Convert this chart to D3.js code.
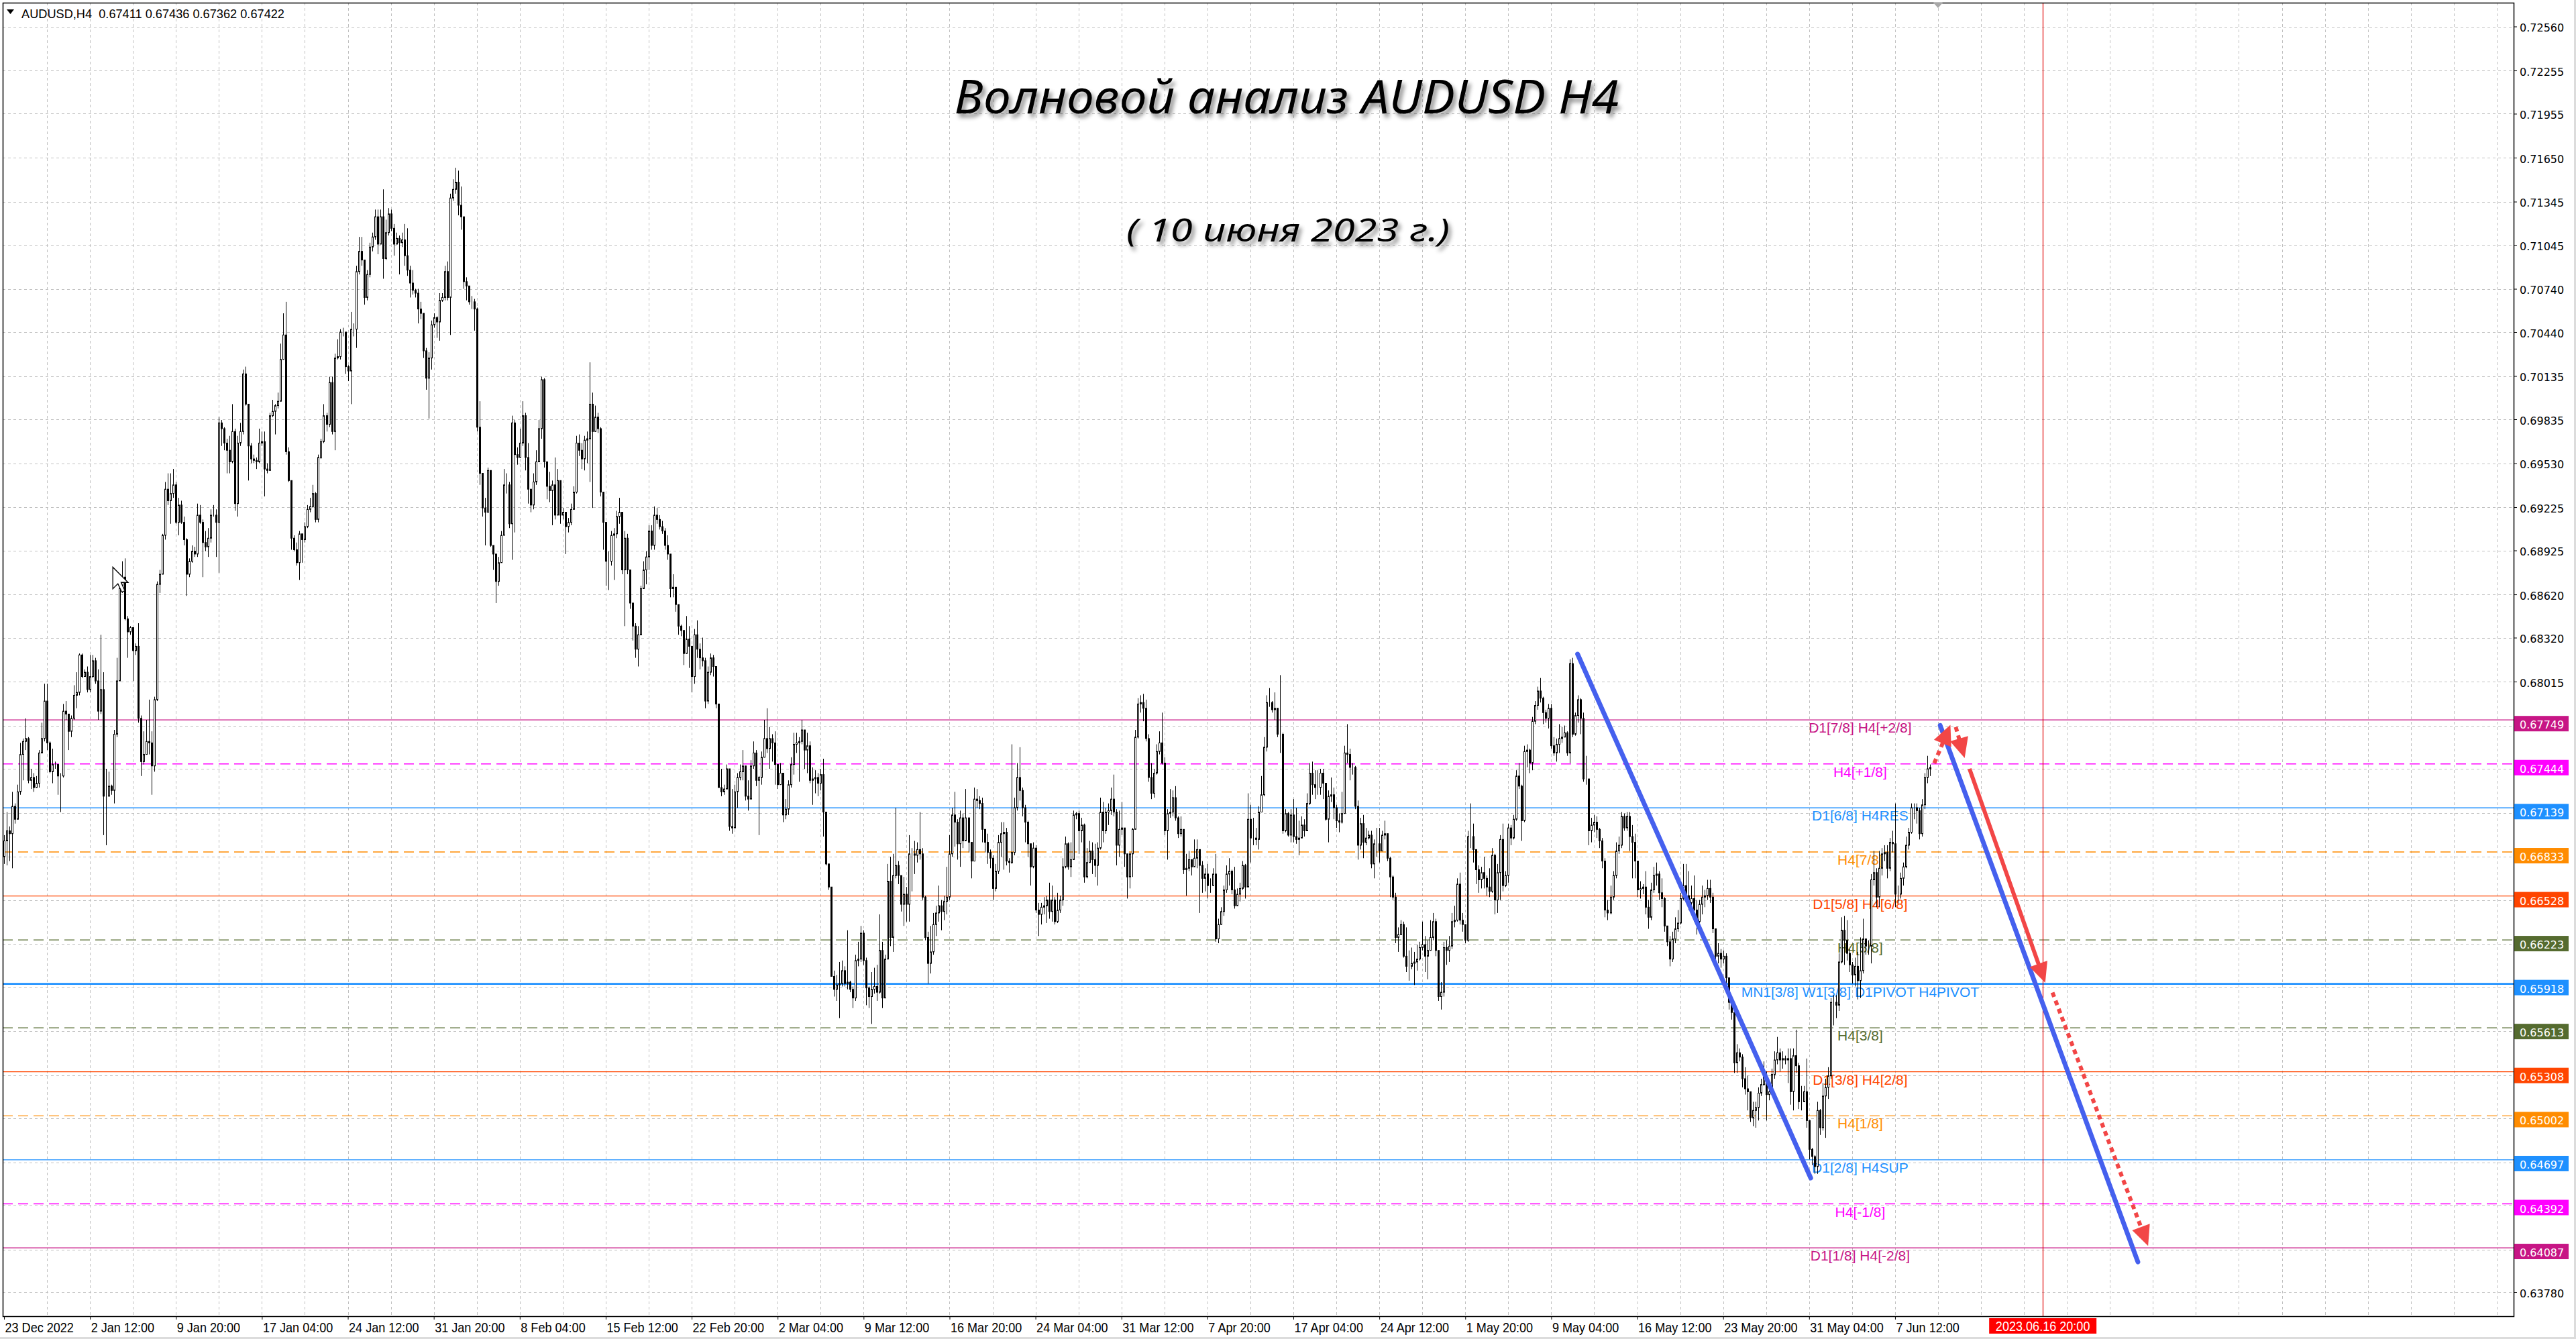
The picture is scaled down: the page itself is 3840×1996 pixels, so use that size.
<!DOCTYPE html>
<html>
<head>
<meta charset="utf-8">
<script src="https://cdn.jsdelivr.net/npm/d3@7"></script>
<style>
  body { margin: 0; background: #fff; overflow: hidden; }
  svg { display: block; }
</style>
</head>
<body>
<svg id="chart" width="3840" height="1996"></svg>
<script>
// header / titles
var symbolInfo = "AUDUSD,H4  0.67411 0.67436 0.67362 0.67422";
var titleText = "Волновой анализ AUDUSD H4";
var subTitleText = "( 10 июня 2023 г.)";
var futureLabel = "2023.06.16 20:00";
var futureBar = 759;

// H4 candles, prices in pips (x 10000); open = previous close
var firstOpen = 6680;
var closes = [
6691,6698,6696,6715,6706,6725,6751,6760,6762,6733,6735,6728,6731,6752,6762,6788,6759,6739,6744,6744,
6736,6736,6781,6779,6767,6776,6792,6794,6820,6805,6808,6796,6805,6816,6802,6781,6796,6722,6722,6729,
6726,6765,6802,6866,6874,6845,6836,6839,6823,6826,6776,6746,6751,6760,6759,6743,6789,6869,6876,6903,
6935,6927,6932,6938,6912,6924,6912,6900,6876,6885,6892,6890,6917,6912,6898,6895,6901,6917,6917,6912,
6981,6977,6967,6962,6954,6975,6925,6967,6975,7015,6994,6965,6956,6955,6954,6967,6968,6949,6948,6986,
6989,6993,6996,7025,7042,6961,6941,6901,6893,6884,6904,6900,6909,6921,6923,6932,6914,6957,6968,6986,
6980,7009,6975,7026,7027,7044,7044,7020,7017,7046,7046,7086,7100,7094,7068,7084,7103,7110,7124,7105,
7124,7095,7113,7126,7116,7105,7109,7106,7108,7097,7087,7078,7073,7071,7060,7057,7031,7012,7026,7049,
7054,7051,7066,7068,7086,7068,7137,7143,7148,7132,7124,7079,7076,7065,7065,7060,6978,6946,6922,6919,
6948,6896,6890,6871,6884,6903,6938,6938,6911,6981,6959,6957,6967,6986,6957,6935,6924,6940,6954,6977,
7011,6954,6937,6934,6938,6917,6941,6917,6919,6909,6912,6921,6933,6967,6962,6956,6969,6970,6994,6975,
6985,6977,6933,6912,6885,6885,6903,6904,6916,6919,6879,6901,6879,6856,6840,6824,6834,6866,6879,6888,
6906,6896,6917,6914,6909,6906,6896,6890,6866,6867,6855,6840,6837,6821,6831,6826,6805,6834,6824,6818,
6816,6788,6808,6818,6812,6786,6728,6725,6727,6741,6701,6700,6725,6735,6739,6743,6722,6720,6743,6752,
6733,6735,6749,6762,6755,6762,6759,6744,6730,6738,6709,6713,6730,6744,6758,6759,6760,6768,6754,6757,
6733,6734,6735,6731,6737,6711,6675,6659,6597,6588,6591,6592,6601,6592,6593,6588,6582,6608,6609,6627,
6608,6589,6583,6588,6590,6586,6615,6582,6609,6663,6624,6667,6674,6667,6647,6654,6647,6682,6682,6681,
6685,6682,6652,6624,6606,6614,6633,6641,6646,6642,6649,6652,6682,6709,6704,6689,6707,6691,6707,6690,
6677,6720,6719,6717,6699,6690,6683,6679,6658,6670,6690,6696,6697,6677,6676,6683,6714,6735,6726,6714,
6704,6689,6673,6686,6643,6640,6645,6646,6650,6642,6650,6635,6643,6650,6673,6689,6673,6678,6709,6710,
6698,6702,6666,6676,6684,6678,6674,6686,6711,6698,6711,6712,6720,6711,6688,6699,6700,6682,6666,6682,
6699,6763,6786,6787,6783,6762,6735,6724,6738,6753,6759,6745,6698,6710,6711,6721,6707,6696,6699,6671,
6672,6678,6673,6679,6685,6674,6665,6668,6660,6660,6668,6623,6633,6642,6657,6668,6670,6657,6646,6654,
6658,6674,6659,6706,6693,6693,6692,6711,6723,6756,6787,6787,6782,6783,6765,6765,6698,6710,6695,6709,
6694,6692,6693,6702,6698,6717,6738,6730,6728,6728,6738,6731,6706,6722,6723,6714,6705,6704,6710,6752,
6751,6742,6742,6715,6688,6703,6690,6693,6695,6675,6689,6689,6684,6695,6696,6679,6666,6652,6624,6626,
6633,6611,6604,6604,6606,6607,6609,6617,6619,6611,6615,6624,6635,6615,6583,6586,6617,6615,6618,6635,
6636,6661,6636,6633,6622,6694,6694,6685,6671,6664,6669,6665,6659,6656,6681,6650,6669,6692,6660,6667,
6700,6693,6706,6736,6729,6705,6753,6754,6745,6774,6785,6795,6790,6780,6776,6783,6757,6752,6758,6762,
6763,6766,6752,6814,6765,6778,6789,6776,6734,6734,6698,6702,6704,6699,6691,6677,6643,6641,6652,6667,
6684,6688,6708,6700,6708,6694,6690,6677,6657,6658,6659,6645,6638,6657,6667,6668,6655,6651,6632,6621,
6609,6623,6630,6634,6651,6660,6653,6648,6651,6643,6635,6647,6652,6653,6658,6652,6630,6611,6613,6609,
6611,6596,6579,6572,6537,6544,6541,6526,6519,6517,6499,6504,6506,6516,6522,6528,6515,6517,6529,6539,
6544,6539,6540,6539,6540,6517,6542,6535,6510,6510,6517,6497,6477,6472,6465,6504,6492,6514,6520,6528,
6579,6579,6577,6607,6629,6622,6613,6605,6598,6604,6594,6601,6623,6618,6618,6664,6669,6652,6672,6682,
6683,6672,6690,6689,6654,6654,6665,6673,6688,6697,6714,6714,6712,6696,6716,6735,6741,6742
];
var highs = [
6695,6711,6701,6725,6717,6730,6759,6762,6776,6763,6741,6738,6736,6754,6773,6800,6800,6760,6755,6746,
6744,6738,6786,6788,6773,6778,6799,6808,6821,6821,6810,6812,6820,6820,6818,6810,6834,6808,6741,6739,
6730,6768,6818,6869,6885,6887,6847,6840,6839,6828,6842,6778,6767,6775,6789,6767,6791,6871,6879,6904,
6940,6946,6946,6949,6940,6929,6927,6916,6901,6887,6896,6895,6925,6924,6914,6906,6908,6921,6924,6921,
6985,6983,6978,6970,6972,6994,6977,6972,6981,7018,7020,6994,6967,6959,6957,6977,6975,6975,6953,6988,
6997,6994,7002,7036,7057,7065,6964,6941,6903,6898,6906,6903,6912,6924,6929,6938,6933,6959,6970,6994,
6988,7013,7013,7029,7039,7046,7047,7039,7021,7058,7050,7090,7110,7110,7094,7087,7106,7113,7129,7129,
7129,7143,7122,7130,7129,7119,7113,7111,7113,
7119,7116,7090,7087,7074,7074,7065,7057,7033,7030,7052,7057,7055,7071,7071,7090,7093,7140,7150,7158,
7156,7145,7124,7082,7071,7069,7067,7061,6996,6946,6929,6950,6948,6896,6890,6888,6906,6949,6946,6940,
6986,6983,6964,6977,6996,6988,6967,6935,6946,6962,6983,7013,7012,6954,6947,6941,6957,6949,6941,6922,
6919,6915,6925,6937,6972,6973,6967,6972,6975,7023,7002,6993,6988,6978,6933,6912,6892,6906,6908,6920,
6929,6919,6906,6904,6879,6856,6842,6840,6868,6885,6892,6910,6910,6923,6922,6917,6913,6908,6903,6890,
6876,6866,6854,6841,6836,6847,6840,6826,6838,6844,6828,6832,6818,6812,6821,6820,6812,6786,6741,6730,
6744,6741,6727,6730,6738,6744,6754,6743,6733,6747,6760,6754,6736,6753,6775,6783,6770,6765,6767,6744,
6745,6738,6720,6733,6749,
6766,6766,6763,6775,6766,6766,6760,6742,6740,6738,6741,6748,6711,6675,6659,6601,6598,6607,6608,6604,
6629,6594,6590,6612,6621,6632,6629,6610,6590,6600,6603,6605,6640,6621,6612,6675,6680,6682,6714,6677,
6667,6666,6659,6695,6686,6691,6690,6711,6686,6653,6628,6632,6641,6646,6660,6650,6653,6673,6695,6714,
6725,6706,6712,6710,6727,6707,6690,6728,6727,6722,6721,6698,6696,6685,6681,6675,6695,6704,6704,6700,
6679,6758,6721,6745,6756,6728,6716,6705,6689,6690,6688,6648,6648,6652,6653,6662,6660,6652,6655,6653,
6679,6694,6690,6690,6712,6711,6712,6707,6703,6686,6691,6690,6689,6690,6721,6718,6714,6717,6728,6737,
6713,6712,6718,6700,6682,6683,6700,6768,6790,6792,6793,6789,6765,6745,6741,6758,6767,6780,6749,6713,
6727,6726,6729,6708,6708,6699,6682,6684,6677,
6692,6692,6685,6677,6672,6675,6665,6672,6682,6637,6645,6660,6674,6679,6671,6673,6658,6662,6677,6675,
6724,6716,6707,6700,6715,6736,6763,6792,6797,6788,6794,6783,6806,6766,6713,6711,6713,6720,6714,6705,
6708,6706,6724,6745,6746,6740,6740,6741,6741,6731,6726,6735,6728,6716,6710,6725,6757,6772,6755,6745,
6743,6719,6707,6709,6700,6698,6698,6692,6700,6700,6698,6705,6696,6680,6667,6655,6631,6636,6635,6631,
6615,6617,6614,6619,6621,6635,6625,6622,6636,6641,6637,6615,6593,6621,6622,6625,6641,6646,6665,6669,
6641,6633,6698,6717,6703,6685,6674,6673,6680,6667,6672,6686,6682,6675,6695,6703,6670,6703,6702,6709,
6740,6745,6730,6757,6758,6755,6777,6788,6798,6804,6791,6782,6786,6786,6763,6762,6772,6770,6771,6767,
6817,6818,6780,6792,6790,6780,6750,6734,6707,6709,
6708,6700,6693,6679,6650,6660,6670,6690,6694,6711,6710,6711,6711,6702,6696,6677,6663,6661,6670,6650,
6662,6673,6676,6670,6665,6652,6632,6625,6628,6638,6643,6655,6675,6675,6670,6660,6667,6650,6650,6660,
6657,6664,6664,6655,6630,6620,6616,6615,6613,6596,6582,6572,6550,6547,6543,6534,6528,6517,6510,6510,
6520,6526,6538,6531,6521,6533,6545,6555,6547,6545,6542,6547,6547,6547,6560,6537,6521,6521,6540,6497,
6478,6473,6510,6505,6523,6526,6534,6582,6584,6584,6613,6638,6639,6636,6616,6607,6610,6614,6624,6637,
6623,6622,6668,6684,6672,6684,6686,6688,6688,6693,6698,6717,6660,6669,6676,6694,6700,6717,6717,6717,
6714,6720,6738,6750,6744
];
var lows = [
6675,6674,6677,6672,6703,6722,6723,6733,6754,6731,6727,6725,6728,6728,6752,6760,6754,6738,6731,6741,
6723,6711,6735,6775,6754,6763,6775,6783,6792,6804,6805,6794,6794,6804,6800,6775,6779,6695,6688,6727,
6723,6717,6763,6802,6863,6844,6818,6834,6802,6820,6773,6736,6744,6751,6751,6723,6739,6788,6863,6876,
6900,6924,6911,6929,6911,6903,6911,6896,6861,6874,6884,6888,6888,6911,6874,6892,6888,6898,6916,6888,
6877,6965,6962,6946,6946,6953,6920,6916,6965,6973,6993,6941,6953,6953,6949,6953,6965,6930,6946,6948,
6985,6973,6991,6996,7025,6959,6940,6893,6892,6882,6872,6884,6898,6908,6919,6922,6912,6912,6956,6967,
6975,6978,6973,6962,7025,7025,7041,7015,7010,6994,7041,7033,7084,7090,7063,7066,7082,7100,7108,7098,
7105,7081,7094,7111,7114,7097,7106,7084,7103,
7090,7083,7068,7070,7068,7050,7053,7026,7004,6984,7018,7047,7040,7038,7065,7066,7066,7042,7135,7140,
7125,7115,7074,7066,7063,7060,7045,6975,6938,6916,6896,6919,6895,6879,6856,6868,6884,6903,6932,6908,
6886,6905,6952,6957,6965,6948,6925,6919,6921,6938,6954,6970,6950,6928,6926,6910,6914,6917,6911,6914,
6890,6905,6910,6921,6932,6958,6949,6948,6953,6940,6922,6975,6974,6930,6893,6868,6865,6882,6872,6901,
6911,6876,6840,6876,6852,6830,6818,6812,6834,6866,6869,6879,6893,6893,6911,6907,6904,6893,6886,6860,
6860,6850,6834,6833,6813,6823,6811,6794,6800,6818,6810,6812,6783,6786,6806,6805,6783,6728,6722,6723,
6731,6698,6696,6714,6714,6733,6733,6719,6712,6720,6741,6729,6695,6730,6749,6752,6741,6746,6730,6727,
6733,6704,6706,6709,6728,
6737,6752,6732,6758,6741,6738,6731,6716,6724,6722,6726,6694,6674,6657,6597,6583,6580,6568,6590,6590,
6588,6586,6575,6580,6604,6607,6605,6577,6575,6564,6585,6580,6585,6575,6601,6609,6618,6614,6665,6661,
6642,6632,6635,6635,6656,6668,6676,6678,6650,6622,6592,6599,6612,6625,6635,6629,6636,6640,6650,6680,
6687,6678,6673,6686,6698,6683,6665,6678,6714,6713,6690,6683,6675,6672,6650,6656,6668,6680,6671,6674,
6669,6675,6681,6712,6719,6708,6690,6680,6660,6672,6641,6625,6633,6640,6634,6637,6635,6633,6634,6641,
6646,6672,6671,6666,6678,6706,6682,6690,6662,6665,6676,6668,6666,6660,6685,6690,6696,6702,6709,6708,
6674,6680,6695,6673,6651,6658,6666,6700,6762,6780,6774,6760,6732,6720,6721,6737,6751,6744,6695,6678,
6707,6708,6705,6693,6694,6668,6653,6670,6667,
6676,6672,6641,6655,6656,6651,6655,6660,6621,6620,6633,6639,6655,6660,6654,6644,6646,6649,6657,6651,
6659,6676,6688,6688,6685,6711,6722,6753,6784,6780,6775,6763,6752,6696,6697,6694,6690,6690,6689,6681,
6693,6694,6700,6716,6723,6720,6723,6723,6720,6705,6690,6718,6706,6700,6697,6703,6710,6745,6733,6737,
6713,6678,6685,6679,6688,6692,6672,6665,6680,6676,6685,6692,6677,6652,6650,6620,6614,6627,6610,6600,
6594,6602,6591,6601,6608,6615,6600,6595,6615,6622,6611,6580,6574,6583,6605,6607,6616,6631,6635,6633,
6628,6620,6621,6686,6676,6661,6655,6658,6658,6653,6652,6655,6640,6641,6650,6656,6659,6662,6688,6692,
6705,6727,6691,6704,6742,6738,6740,6772,6782,6787,6772,6773,6769,6755,6750,6746,6752,6759,6763,6750,
6745,6763,6764,6773,6765,6732,6730,6688,6690,6697,
6693,6686,6672,6638,6636,6640,6650,6665,6682,6686,6698,6698,6684,6665,6665,6652,6651,6654,6640,6630,
6636,6655,6660,6650,6645,6628,6618,6604,6607,6620,6628,6633,6650,6648,6643,6643,6635,6626,6632,6640,
6645,6650,6648,6627,6608,6606,6603,6606,6591,6574,6567,6530,6530,6538,6520,6515,6504,6496,6493,6492,
6497,6514,6521,6497,6511,6516,6526,6536,6531,6533,6536,6523,6508,6504,6530,6505,6504,6510,6492,6470,
6466,6460,6460,6487,6490,6485,6512,6526,6563,6568,6573,6606,6605,6608,6600,6592,6590,6581,6582,6599,
6612,6612,6606,6660,6645,6645,6667,6677,6665,6670,6683,6645,6648,6651,6660,6672,6685,6696,6706,6703,
6692,6694,6713,6731,6736
];

// price axis
var priceTicks = [0.72560,0.72255,0.71955,0.71650,0.71345,0.71045,0.70740,0.70440,0.70135,0.69835,
  0.69530,0.69225,0.68925,0.68620,0.68320,0.68015,0.67710,0.67410,0.67105,0.66800,0.66500,0.66195,
  0.65895,0.65590,0.65285,0.64985,0.64680,0.64380,0.64075,0.63780];

// time axis (bar index of each label)
var timeBars = [0,32,64,96,128,160,192,224,256,288,320,352,384,416,448,480,512,544,576,608,640,672,704];
var timeTexts = ["23 Dec 2022","2 Jan 12:00","9 Jan 20:00","17 Jan 04:00","24 Jan 12:00","31 Jan 20:00",
  "8 Feb 04:00","15 Feb 12:00","22 Feb 20:00","2 Mar 04:00","9 Mar 12:00","16 Mar 20:00","24 Mar 04:00",
  "31 Mar 12:00","7 Apr 20:00","17 Apr 04:00","24 Apr 12:00","1 May 20:00","9 May 04:00","16 May 12:00",
  "23 May 20:00","31 May 04:00","7 Jun 12:00"];

// Murrey levels
var levelPrices = [0.67749,0.67444,0.67139,0.66833,0.66528,0.66223,0.65918,0.65613,0.65308,0.65002,0.64697,0.64392,0.64087];
var levelNames = ["D1[7/8] H4[+2/8]","H4[+1/8]","D1[6/8] H4RES","H4[7/8]","D1[5/8] H4[6/8]","H4[5/8]",
  "MN1[3/8] W1[3/8] D1PIVOT H4PIVOT","H4[3/8]","D1[3/8] H4[2/8]","H4[1/8]","D1[2/8] H4SUP","H4[-1/8]","D1[1/8] H4[-2/8]"];
var levelColors = ["#C71585","#FF00FF","#1E90FF","#FF8C00","#FF4500","#556B2F","#1E90FF",
  "#556B2F","#FF4500","#FF8C00","#1E90FF","#FF00FF","#C71585"];
var levelDashed = [false,true,false,true,false,true,false,true,false,true,false,true,false];
var levelLabelBar = 691;

// drawn objects: [bar1, price1, bar2, price2]
var trendLines = [[585.8,0.68206,672.6,0.64571],[720.8,0.67711,794.4,0.63989]];
var arrows = [[718.6,0.67449,724.6,0.67715],[726.6,0.67700,729.9,0.67485],
  [731.7,0.67410,759.9,0.65925],[762.6,0.65858,798.2,0.64100]];
var arrowDotted = [true,true,false,true];

var svg = d3.select("#chart");
var frame = {left: 4, top: 4, right: 3747, bottom: 1962};
var narrowFont = "'Liberation Sans', Arial, sans-serif";

var x = d3.scaleLinear().domain([0, 717]).range([6, 2877]);
var y = d3.scaleLinear().domain([0.63780, 0.72560]).range([1926, 39.5]);

var defs = svg.append("defs");
defs.append("clipPath").attr("id", "plot")
  .append("rect")
  .attr("x", frame.left).attr("y", frame.top)
  .attr("width", frame.right - frame.left).attr("height", frame.bottom - frame.top);
var shadow = defs.append("filter").attr("id", "shadow")
  .attr("x", "-5%").attr("y", "-20%").attr("width", "110%").attr("height", "160%");
shadow.append("feDropShadow")
  .attr("dx", 4).attr("dy", 6).attr("stdDeviation", 3)
  .attr("flood-color", "#000").attr("flood-opacity", 0.45);

// squeeze a text to a share of its natural width (MT4 uses a narrow font)
function squeeze(sel, k) {
  sel.each(function () {
    var w = this.getComputedTextLength();
    d3.select(this).attr("textLength", w * k).attr("lengthAdjust", "spacingAndGlyphs");
  });
}

svg.append("rect").attr("width", 3840).attr("height", 1996).attr("fill", "#fff");
svg.append("rect").attr("x", 0).attr("y", 1993).attr("width", 3840).attr("height", 3).attr("fill", "#dcdcdc");
svg.append("rect").attr("x", 3837).attr("y", 0).attr("width", 3).attr("height", 1996).attr("fill", "#dcdcdc");

var plot = svg.append("g").attr("clip-path", "url(#plot)");

// grid
var vBars = d3.range(16, 940, 16).filter(function (b) { return x(b) < frame.right; });
plot.selectAll("line.vgrid")
  .data(vBars)
  .enter()
  .append("line")
  .attr("class", "vgrid")
  .attr("x1", function (d) { return Math.round(x(d)) + 0.5; })
  .attr("x2", function (d) { return Math.round(x(d)) + 0.5; })
  .attr("y1", frame.top).attr("y2", frame.bottom)
  .attr("stroke", "#c0c0c0").attr("stroke-width", 1)
  .attr("stroke-dasharray", "4,4");
plot.selectAll("line.hgrid")
  .data(priceTicks)
  .enter()
  .append("line")
  .attr("class", "hgrid")
  .attr("x1", frame.left).attr("x2", frame.right)
  .attr("y1", function (d) { return Math.round(y(d)) + 0.5; })
  .attr("y2", function (d) { return Math.round(y(d)) + 0.5; })
  .attr("stroke", "#c0c0c0").attr("stroke-width", 1)
  .attr("stroke-dasharray", "4,4");

// levels
var levels = levelPrices.map(function (p, i) {
  return {price: p, name: levelNames[i], color: levelColors[i], dashed: levelDashed[i]};
});
plot.selectAll("line.level")
  .data(levels)
  .enter()
  .append("line")
  .attr("class", "level")
  .attr("x1", frame.left).attr("x2", frame.right)
  .attr("y1", function (d) { return y(d.price); })
  .attr("y2", function (d) { return y(d.price); })
  .attr("stroke", function (d) { return d.color; })
  .attr("stroke-width", function (d) { return d.name.indexOf("MN1") === 0 ? 2.6 : 1.3; })
  .attr("stroke-dasharray", function (d) { return d.dashed ? "15,8" : null; });
plot.selectAll("text.level")
  .data(levels)
  .enter()
  .append("text")
  .attr("class", "level")
  .attr("x", x(levelLabelBar))
  .attr("y", function (d) { return y(d.price) + 19; })
  .attr("text-anchor", "middle")
  .style("font-family", "'Liberation Sans', Arial, sans-serif")
  .style("font-size", "21px")
  .attr("fill", function (d) { return d.color; })
  .text(function (d) { return d.name; });

// candles
var candles = closes.map(function (c, i) {
  var o = i ? closes[i - 1] : firstOpen;
  return {
    i: i,
    o: o / 10000,
    c: c / 10000,
    h: Math.max(highs[i], o, c) / 10000,
    l: Math.min(lows[i], o, c) / 10000
  };
});
var cg = plot.append("g");
cg.selectAll("line.wick")
  .data(candles)
  .enter()
  .append("line")
  .attr("class", "wick")
  .attr("x1", function (d) { return Math.round(x(d.i)) + 0.5; })
  .attr("x2", function (d) { return Math.round(x(d.i)) + 0.5; })
  .attr("y1", function (d) { return y(d.h); })
  .attr("y2", function (d) { return y(d.l); })
  .attr("stroke", "#000").attr("stroke-width", 1);
cg.selectAll("rect.body")
  .data(candles)
  .enter()
  .append("rect")
  .attr("class", "body")
  .attr("x", function (d) { return Math.round(x(d.i)) - 0.5; })
  .attr("y", function (d) { return y(Math.max(d.o, d.c)); })
  .attr("width", 2)
  .attr("height", function (d) { return Math.abs(y(d.o) - y(d.c)); })
  .attr("fill", function (d) { return d.c >= d.o ? "#fff" : "#000"; })
  .attr("stroke", "#000").attr("stroke-width", 1);

// future time line
plot.append("line")
  .attr("x1", Math.round(x(futureBar)) + 0.5).attr("x2", Math.round(x(futureBar)) + 0.5)
  .attr("y1", frame.top).attr("y2", frame.bottom)
  .attr("stroke", "#e00000").attr("stroke-width", 1.2);

// blue trend lines
plot.selectAll("line.trend")
  .data(trendLines)
  .enter()
  .append("line")
  .attr("class", "trend")
  .attr("x1", function (d) { return x(d[0]); })
  .attr("y1", function (d) { return y(d[1]); })
  .attr("x2", function (d) { return x(d[2]); })
  .attr("y2", function (d) { return y(d[3]); })
  .attr("stroke", "#4560EE").attr("stroke-width", 7)
  .attr("stroke-linecap", "round");

// red arrows
var ag = plot.append("g");
arrows.forEach(function (a, i) {
  var x1 = x(a[0]), y1 = y(a[1]), x2 = x(a[2]), y2 = y(a[3]);
  var len = Math.hypot(x2 - x1, y2 - y1);
  var ux = (x2 - x1) / len, uy = (y2 - y1) / len;
  var head = 30, half = 14;
  var bx = x2 - ux * head, by = y2 - uy * head;
  ag.append("line")
    .attr("x1", x1).attr("y1", y1).attr("x2", bx + ux * 2).attr("y2", by + uy * 2)
    .attr("stroke", "#F24646").attr("stroke-width", 6)
    .attr("stroke-dasharray", arrowDotted[i] ? "7,6" : null);
  ag.append("path")
    .attr("d", "M" + x2 + "," + y2 +
      "L" + (bx - uy * half) + "," + (by + ux * half) +
      "L" + (bx + uy * half) + "," + (by - ux * half) + "Z")
    .attr("fill", "#F24646");
});

// mouse cursor left on the screenshot
svg.append("path")
  .attr("transform", "translate(" + x(40.5) + "," + y(0.68809) + ") scale(0.95)")
  .attr("d", "M0,0 L0,34 L8,26 L14,39 L19,37 L13,24 L24,24 Z")
  .attr("fill", "#fff").attr("stroke", "#000").attr("stroke-width", 1.4);

// frame
svg.append("rect")
  .attr("x", frame.left + 0.5).attr("y", frame.top + 0.5)
  .attr("width", frame.right - frame.left).attr("height", frame.bottom - frame.top)
  .attr("fill", "none").attr("stroke", "#000").attr("stroke-width", 1.5);

// chart shift marker
svg.append("path")
  .attr("d", "M" + (x(720) - 7) + "," + frame.top + "L" + (x(720) + 7) + "," + frame.top +
    "L" + x(720) + "," + (frame.top + 8) + "Z")
  .attr("fill", "#a8a8a8");

// price axis
var yAxis = d3.axisRight(y).tickValues(priceTicks).tickSize(5).tickFormat(d3.format(".5f"));
var yg = svg.append("g").attr("transform", "translate(" + frame.right + ",0)").call(yAxis);
yg.select(".domain").remove();
yg.selectAll(".tick line").attr("stroke", "#000");
yg.selectAll(".tick text")
  .attr("x", 9).attr("dy", "0.45em")
  .style("font-family", "'DejaVu Sans', Verdana, sans-serif")
  .style("font-size", "16px")
  .attr("fill", "#000")
  .style("display", function (d) {
    var near = levelPrices.some(function (p) { return Math.abs(y(p) - y(d)) < 30; });
    return near ? "none" : null;
  });

// level price boxes
var lb = svg.append("g");
lb.selectAll("rect")
  .data(levels)
  .enter()
  .append("rect")
  .attr("x", frame.right + 1)
  .attr("y", function (d) { return y(d.price) - 6; })
  .attr("width", 81).attr("height", 23)
  .attr("fill", function (d) { return d.color; });
lb.selectAll("text")
  .data(levels)
  .enter()
  .append("text")
  .attr("x", frame.right + 9)
  .attr("y", function (d) { return y(d.price) + 13; })
  .style("font-family", "'DejaVu Sans', Verdana, sans-serif")
  .style("font-size", "16px")
  .attr("fill", "#fff")
  .text(function (d) { return d.price.toFixed(5); });

// time axis
var xAxis = d3.axisBottom(x).tickValues(timeBars).tickSize(5)
  .tickFormat(function (d, i) { return timeTexts[i]; });
var xg = svg.append("g").attr("transform", "translate(0," + frame.bottom + ")").call(xAxis);
xg.select(".domain").remove();
xg.selectAll(".tick line").attr("stroke", "#000");
xg.selectAll(".tick text")
  .attr("text-anchor", "start")
  .attr("x", 1).attr("y", 24).attr("dy", 0)
  .style("font-family", narrowFont)
  .style("font-size", "21px")
  .attr("fill", "#000")
  .call(squeeze, 0.86);

// future time label
var fx = x(futureBar);
svg.append("rect")
  .attr("x", fx - 80).attr("y", frame.bottom + 3)
  .attr("width", 160).attr("height", 23)
  .attr("fill", "#ff0000");
svg.append("text")
  .attr("x", fx).attr("y", frame.bottom + 22)
  .attr("text-anchor", "middle")
  .style("font-family", narrowFont)
  .style("font-size", "21px")
  .attr("fill", "#fff")
  .text(futureLabel)
  .call(squeeze, 0.86);

// header
svg.append("path").attr("d", "M10,14 L21,14 L15.5,21 Z").attr("fill", "#000");
svg.append("text")
  .attr("x", 32).attr("y", 27)
  .style("font-family", "'Liberation Sans', Arial, sans-serif")
  .style("font-size", "18.2px")
  .attr("fill", "#000")
  .attr("xml:space", "preserve")
  .style("white-space", "pre")
  .text(symbolInfo);

// titles
svg.append("text")
  .attr("x", 1918).attr("y", 169)
  .attr("text-anchor", "middle")
  .attr("textLength", 990).attr("lengthAdjust", "spacingAndGlyphs")
  .style("font-family", "'Noto Sans', 'Open Sans', sans-serif")
  .style("font-style", "italic")
  .style("font-size", "70px")
  .attr("fill", "#000")
  .attr("filter", "url(#shadow)")
  .text(titleText);
svg.append("text")
  .attr("x", 1920).attr("y", 360)
  .attr("text-anchor", "middle")
  .attr("textLength", 482).attr("lengthAdjust", "spacingAndGlyphs")
  .style("font-family", "'Noto Sans', 'Open Sans', sans-serif")
  .style("font-style", "italic")
  .style("font-size", "48px")
  .attr("fill", "#000")
  .attr("filter", "url(#shadow)")
  .text(subTitleText);
</script>
</body>
</html>
